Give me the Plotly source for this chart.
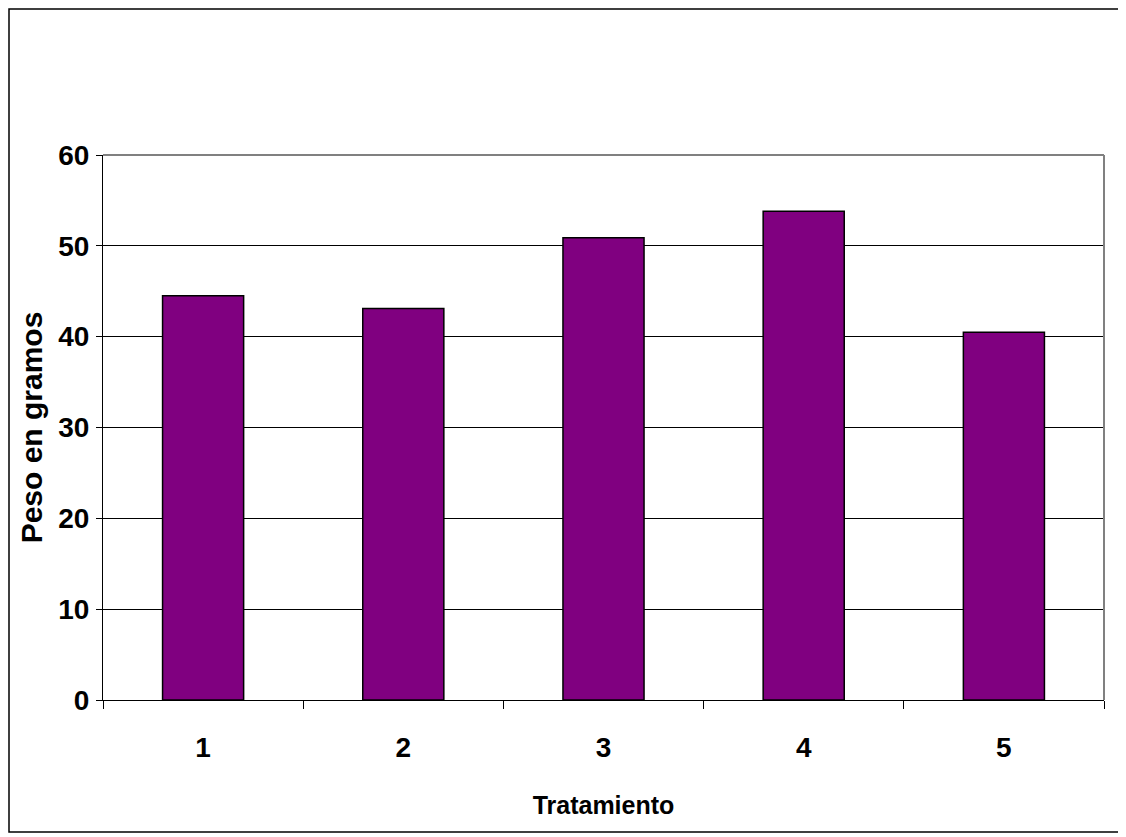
import plotly.graph_objects as go

categories = ["1", "2", "3", "4", "5"]
values = [44.5, 43.1, 50.9, 53.8, 40.5]
y_ticks = [0, 10, 20, 30, 40, 50, 60]

FONT = "Liberation Sans, Arial, sans-serif"

# page body has an 8px margin, so the figure is offset by 8px
OFF = 8
W, H = 1126 - OFF, 837 - OFF
L, T = 103 - OFF, 155 - OFF
PW, PH = 1001, 545

fig = go.Figure()
fig.add_trace(go.Bar(
    x=categories, y=values,
    marker=dict(color="#800080", line=dict(color="#000000", width=1.5)),
    showlegend=False,
))

fig.update_layout(
    width=W, height=H,
    margin=dict(l=L, r=W - L - PW, t=T, b=H - T - PH, autoexpand=False),
    paper_bgcolor="white", plot_bgcolor="white",
    bargap=0.595,
    font=dict(family=FONT, color="black"),
    xaxis=dict(
        type="category", tickson="boundaries", ticks="outside", ticklen=8,
        tickcolor="#000", tickwidth=1, showline=True, linecolor="#000", linewidth=1,
        showgrid=False, ticklabelstandoff=22,
        tickfont=dict(family=FONT, size=28, weight="bold"),
        title=dict(text="Tratamiento", font=dict(family=FONT, size=25, weight="bold"), standoff=34),
    ),
    yaxis=dict(
        range=[0, 60], tickvals=y_ticks, ticks="outside", ticklen=6, tickcolor="#000",
        showline=True, linecolor="#000", linewidth=1,
        showgrid=True, gridcolor="#000", gridwidth=1, zeroline=False,
        ticklabelstandoff=1,
        tickfont=dict(family=FONT, size=28, weight="bold"),
        title=dict(text="Peso en gramos", font=dict(family=FONT, size=30, weight="bold"), standoff=6),
    ),
    shapes=[
        dict(type="line", xref="paper", yref="paper", x0=0, x1=1, y0=1, y1=1,
             line=dict(color="#808080", width=2), layer="above"),
        dict(type="line", xref="paper", yref="paper", x0=1, x1=1, y0=0, y1=1,
             line=dict(color="#808080", width=2), layer="above"),
        dict(type="rect", xref="paper", yref="paper",
             x0=(9 - 103) / PW, x1=(1122 - 103) / PW,
             y0=(700 - 832) / PH, y1=(700 - 9) / PH,
             line=dict(color="#000", width=1.5), layer="below"),
    ],
)

fig.write_html("out.html")
